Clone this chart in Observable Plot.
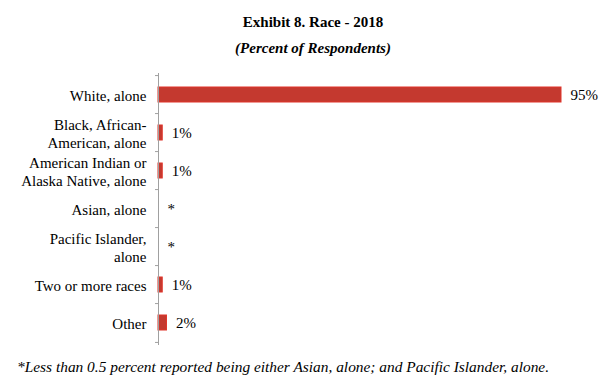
<!DOCTYPE html>
<html>
<head>
<meta charset="utf-8">
<script src="https://cdn.jsdelivr.net/npm/d3@7"></script>
<script src="https://cdn.jsdelivr.net/npm/@observablehq/plot@0.6"></script>
<style>
  html, body { margin: 0; padding: 0; background: #fff; }
  body { width: 600px; height: 382px; overflow: hidden; color: #000; }
  #header { height: 62px; box-sizing: border-box; padding-top: 12px; padding-left: 26px; text-align: center; }
  #title { font-family: 'Liberation Serif'; font-size: 15px; font-weight: bold; line-height: 20px; }
  #subtitle { font-family: 'Liberation Serif'; font-size: 15px; font-weight: bold; font-style: italic; line-height: 20px; margin-top: 6px; }
  #chart svg { display: block; }
  #chart svg text { font-family: 'Liberation Serif'; }
  #footnote { font-family: 'Liberation Serif'; font-size: 15.4px; font-style: italic; line-height: 20px; padding-top: 5px; padding-left: 17px; white-space: nowrap; }
</style>
</head>
<body>
<div id="header">
  <div id="title">Exhibit 8. Race - 2018</div>
  <div id="subtitle">(Percent of Respondents)</div>
</div>
<div id="chart"></div>
<div id="footnote">*Less than 0.5 percent reported being either Asian, alone; and Pacific Islander, alone.</div>
<script>
const categories = [
  "White, alone",
  "Black, African-\nAmerican, alone",
  "American Indian or\nAlaska Native, alone",
  "Asian, alone",
  "Pacific Islander,\nalone",
  "Two or more races",
  "Other"
];
const values = [95, 1, 1, 0, 0, 1, 2];
const valueLabels = ["95%", "1%", "1%", "*", "*", "1%", "2%"];

const data = categories.map((c, i) => ({category: c, value: values[i], label: valueLabels[i]}));

const width = 600, height = 290;
const marginLeft = 158, marginRight = 39, marginTop = 11, marginBottom = 7;
const frameW = width - marginLeft - marginRight;
const step = (height - marginTop - marginBottom) / categories.length;

const chart = Plot.plot({
  width, height, marginLeft, marginRight, marginTop, marginBottom,
  style: {fontFamily: "'Liberation Serif'", fontSize: "15px", color: "#000", background: "#fff"},
  x: {domain: [0, 95], axis: null},
  y: {domain: categories, paddingInner: 0.6, paddingOuter: 0.3, axis: null},
  marks: [
    Plot.barX(data.filter(d => d.value > 0), {x: "value", y: "category", fill: "#c4392f", stroke: "#e0352b", strokeWidth: 1}),
    Plot.ruleX([0], {stroke: "#a0a0a0", strokeWidth: 1}),
    Plot.tickY(categories, {y: d => d, dy: -step / 2, stroke: "#a0a0a0", insetLeft: -3, insetRight: frameW}),
    Plot.tickY(categories.slice(-1), {y: d => d, dy: step / 2, stroke: "#a0a0a0", insetLeft: -3, insetRight: frameW}),
    Plot.text(data, {x: 0, y: "category", text: "category", textAnchor: "end", dx: -12, lineHeight: 1.2, fontSize: 15, fontFamily: "Liberation Serif", fill: "#000"}),
    Plot.text(data, {x: "value", y: "category", text: "label", textAnchor: "start", dx: 9, fontSize: 15, fontFamily: "Liberation Serif", fill: "#000"})
  ]
});
document.getElementById("chart").appendChild(chart);
</script>
</body>
</html>
